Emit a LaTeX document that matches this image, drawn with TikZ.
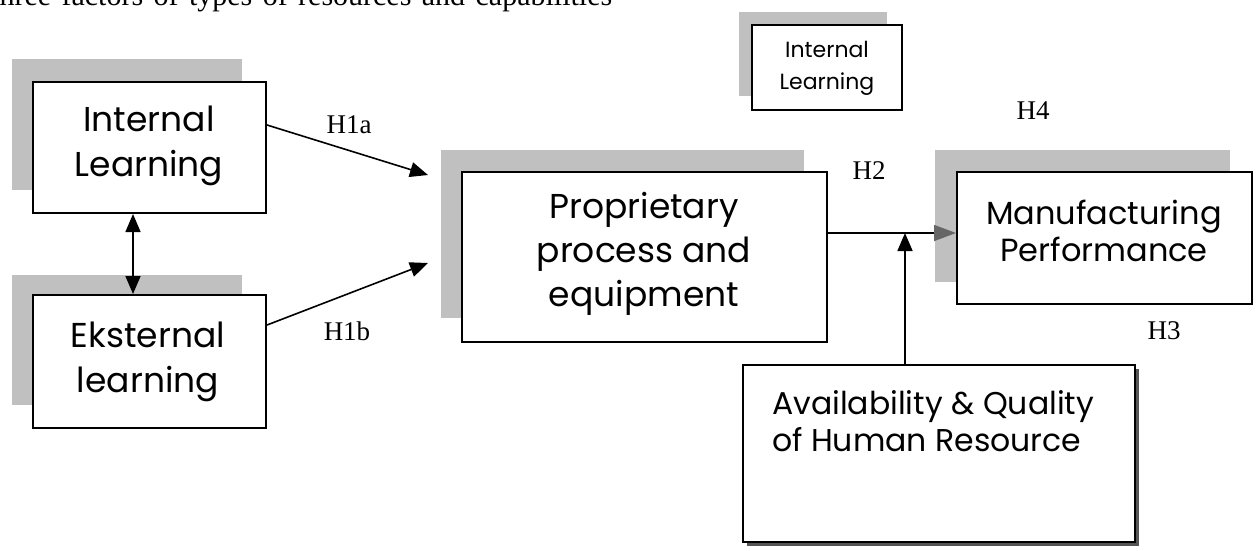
\documentclass[tikz,border=0pt]{standalone}
\usepackage{fontspec}
\setmainfont{Liberation Serif}
\newfontfamily\gfont{Poppins}
\usetikzlibrary{arrows.meta}
\definecolor{shadowgray}{RGB}{192,192,192}
\definecolor{darkshadow}{RGB}{85,85,85}
\begin{document}
\begin{tikzpicture}[x=1pt,y=-1pt,
  box/.style={draw=black,line width=2pt,fill=white,rectangle,inner sep=0pt},
  btext/.style={font=\gfont\fontsize{34.5}{45}\selectfont,align=center,inner sep=0pt},
  hlab/.style={font=\fontsize{27}{30}\selectfont,inner sep=0pt},
  arr/.style={line width=1.6pt,-{Triangle[length=18pt,width=15pt]}},
  darr/.style={line width=1.6pt,{Triangle[length=18pt,width=15pt]}-{Triangle[length=18pt,width=15pt]}},
  garr/.style={line width=1.6pt,-{Triangle[length=22pt,width=16pt,color=black!60]}},
]
\useasboundingbox (0,0) rectangle (1257,550);
\fill[white] (0,0) rectangle (1257,550);

% top text (cut off at the top edge, as in the reference)
\node[anchor=base west,inner sep=0pt,font=\fontsize{30}{36}\selectfont] (top) at (-9,5)
  {\makebox[621pt][s]{three factors of types of resources and capabilities}};

% shadows
\fill[shadowgray] (12,59) rectangle (242,190);
\fill[shadowgray] (12,275) rectangle (242,405);
\fill[shadowgray] (441,150) rectangle (804,318);
\fill[shadowgray] (739,12) rectangle (887,96);
\fill[shadowgray] (935,150) rectangle (1230,282);
\fill[darkshadow] (747,369) rectangle (1139,546);

% boxes
\node[box,minimum width=233pt,minimum height=131pt] (il) at (149.5,147.5) {};
\node[box,minimum width=233pt,minimum height=133pt] (el) at (149.5,361.5) {};
\node[box,minimum width=365pt,minimum height=170pt] (pp) at (644.5,257) {};
\node[box,minimum width=150pt,minimum height=85pt] (sil) at (827,67.5) {};
\node[box,minimum width=295pt,minimum height=132pt] (mp) at (1104.5,238) {};
\node[box,minimum width=392pt,minimum height=177pt] (av) at (939,453.5) {};

% texts
\node[btext] (ilt) at (149,146) {Internal\\Learning};
\node[btext] (elt) at (148,362) {Eksternal\\learning};
\node[btext,font=\gfont\fontsize{34.5}{44}\selectfont] (ppt) at (644,254) {Proprietary\\process and\\equipment};
\node[btext,font=\gfont\fontsize{22}{32}\selectfont] (silt) at (827,68) {Internal\\Learning};
\node[btext,font=\gfont\fontsize{32}{37}\selectfont] (mpt) at (1104,231) {Manufacturing\\Performance};
\node[btext,font=\gfont\fontsize{31.5}{37}\selectfont,align=left,anchor=west] (avt) at (772,421) {Availability \& Quality\\of Human Resource};

% connectors
\coordinate (dx) at (133,0);
\coordinate (h1aend) at (428,175);
\coordinate (h1bend) at (428,263);
\coordinate (j) at (905,233);
\draw[darr] (il.south -| dx) -- (el.north -| dx);
\draw[arr] ([yshift=22.5pt]il.east) -- (h1aend);
\draw[arr] ([yshift=36.5pt]el.east) -- (h1bend);
\draw[garr] ([yshift=24pt]pp.east) -- (mp.west |- j);
\draw[arr] (av.north -| j) -- (j);

% hypothesis labels
\node[hlab] (h1a) at (349,125) {H1a};
\node[hlab] (h1b) at (347,331) {H1b};
\node[hlab] (h2) at (869,171) {H2};
\node[hlab] (h4) at (1033,111) {H4};
\node[hlab] (h3) at (1164,331) {H3};
\end{tikzpicture}
\end{document}
